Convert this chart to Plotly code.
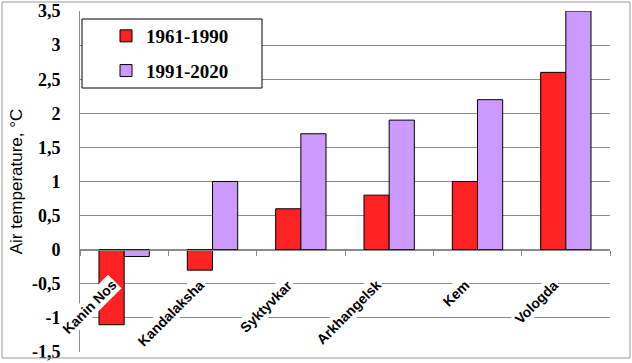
import plotly.graph_objects as go

stations = ["Kanin Nos", "Kandalaksha", "Syktyvkar", "Arkhangelsk", "Kem", "Vologda"]
period_1961_1990 = [-1.1, -0.3, 0.6, 0.8, 1.0, 2.6]
period_1991_2020 = [-0.1, 1.0, 1.7, 1.9, 2.2, 3.5]
series_names = ["1961-1990", "1991-2020"]
y_tick_values = [-1.5, -1.0, -0.5, 0, 0.5, 1.0, 1.5, 2.0, 2.5, 3.0, 3.5]
y_tick_labels = ["-1,5", "-1", "-0,5", "0", "0,5", "1", "1,5", "2", "2,5", "3", "3,5"]
y_title = "Air temperature, °C"

RED = "#FF2222"
PURPLE = "#CC99FF"
GRID = "#8a8a8a"

# plot area in pixels: x 80..610, y 11..352
L, R, T, B = 80, 610, 11, 352
PW, PH = R - L, B - T


def px_x(p):
    return (p - L) / PW


def px_y(p):
    return (B - p) / PH


fig = go.Figure()
fig.add_trace(go.Bar(x=stations, y=period_1961_1990, name=series_names[0],
                     marker=dict(color=RED, line=dict(color="black", width=1)),
                     legendgroup="a"))
fig.add_trace(go.Bar(x=stations, y=period_1991_2020, name=series_names[1],
                     marker=dict(color=PURPLE, line=dict(color="black", width=1)),
                     legendgroup="b"))

annotations = []
for s in stations:
    annotations.append(dict(
        x=s, y=-0.36, xref="x", yref="y", text=s, showarrow=False,
        textangle=-45, xanchor="right", yanchor="top", xshift=-2,
        bgcolor="white", borderpad=1,
        font=dict(family="Liberation Sans", size=14, color="black", weight="bold"),
    ))

fig.update_layout(
    width=632, height=363,
    margin=dict(l=L, r=632 - R, t=T, b=363 - B, autoexpand=False),
    paper_bgcolor="white", plot_bgcolor="white",
    barmode="group", bargap=0.43, bargroupgap=0,
    separators=", ",
    showlegend=True,
    legend=dict(
        x=px_x(106), y=px_y(17), xanchor="left", yanchor="top",
        bgcolor="rgba(0,0,0,0)", borderwidth=0,
        font=dict(family="Liberation Serif", size=19, color="black", weight="bold"),
        itemwidth=30, traceorder="grouped", tracegroupgap=7,
    ),
    xaxis=dict(
        type="category", range=[-0.5, len(stations) - 0.5], autorange=False,
        showticklabels=False, showgrid=False, automargin=False,
        anchor="free", position=0.3, showline=True, linecolor=GRID, linewidth=1,
        ticks="outside", tickson="boundaries", ticklen=5, tickcolor=GRID,
    ),
    yaxis=dict(
        range=[-1.5, 3.5], autorange=False, tickvals=y_tick_values, ticktext=y_tick_labels,
        showgrid=True, gridcolor=GRID, gridwidth=1, zeroline=False, automargin=False,
        showline=True, linecolor=GRID, linewidth=1,
        ticklabelstandoff=15,
        tickfont=dict(family="Liberation Serif", size=18, color="black", weight="bold"),
        title=dict(text=y_title, standoff=4,
                   font=dict(family="Liberation Sans", size=17, color="black")),
    ),
    annotations=annotations,
    shapes=[
        dict(type="rect", xref="paper", yref="paper",
             x0=px_x(2), x1=px_x(630), y0=px_y(358), y1=px_y(2),
             line=dict(color="#999999", width=1), fillcolor="rgba(0,0,0,0)", layer="above"),
        dict(type="rect", xref="paper", yref="paper",
             x0=px_x(82), x1=px_x(262), y0=px_y(88), y1=px_y(19),
             line=dict(color="black", width=1), fillcolor="white", layer="above"),
    ],
)

fig.write_html("out.html", config={"displayModeBar": False},
               post_script="document.body.style.margin='0';document.body.style.overflow='hidden';")
